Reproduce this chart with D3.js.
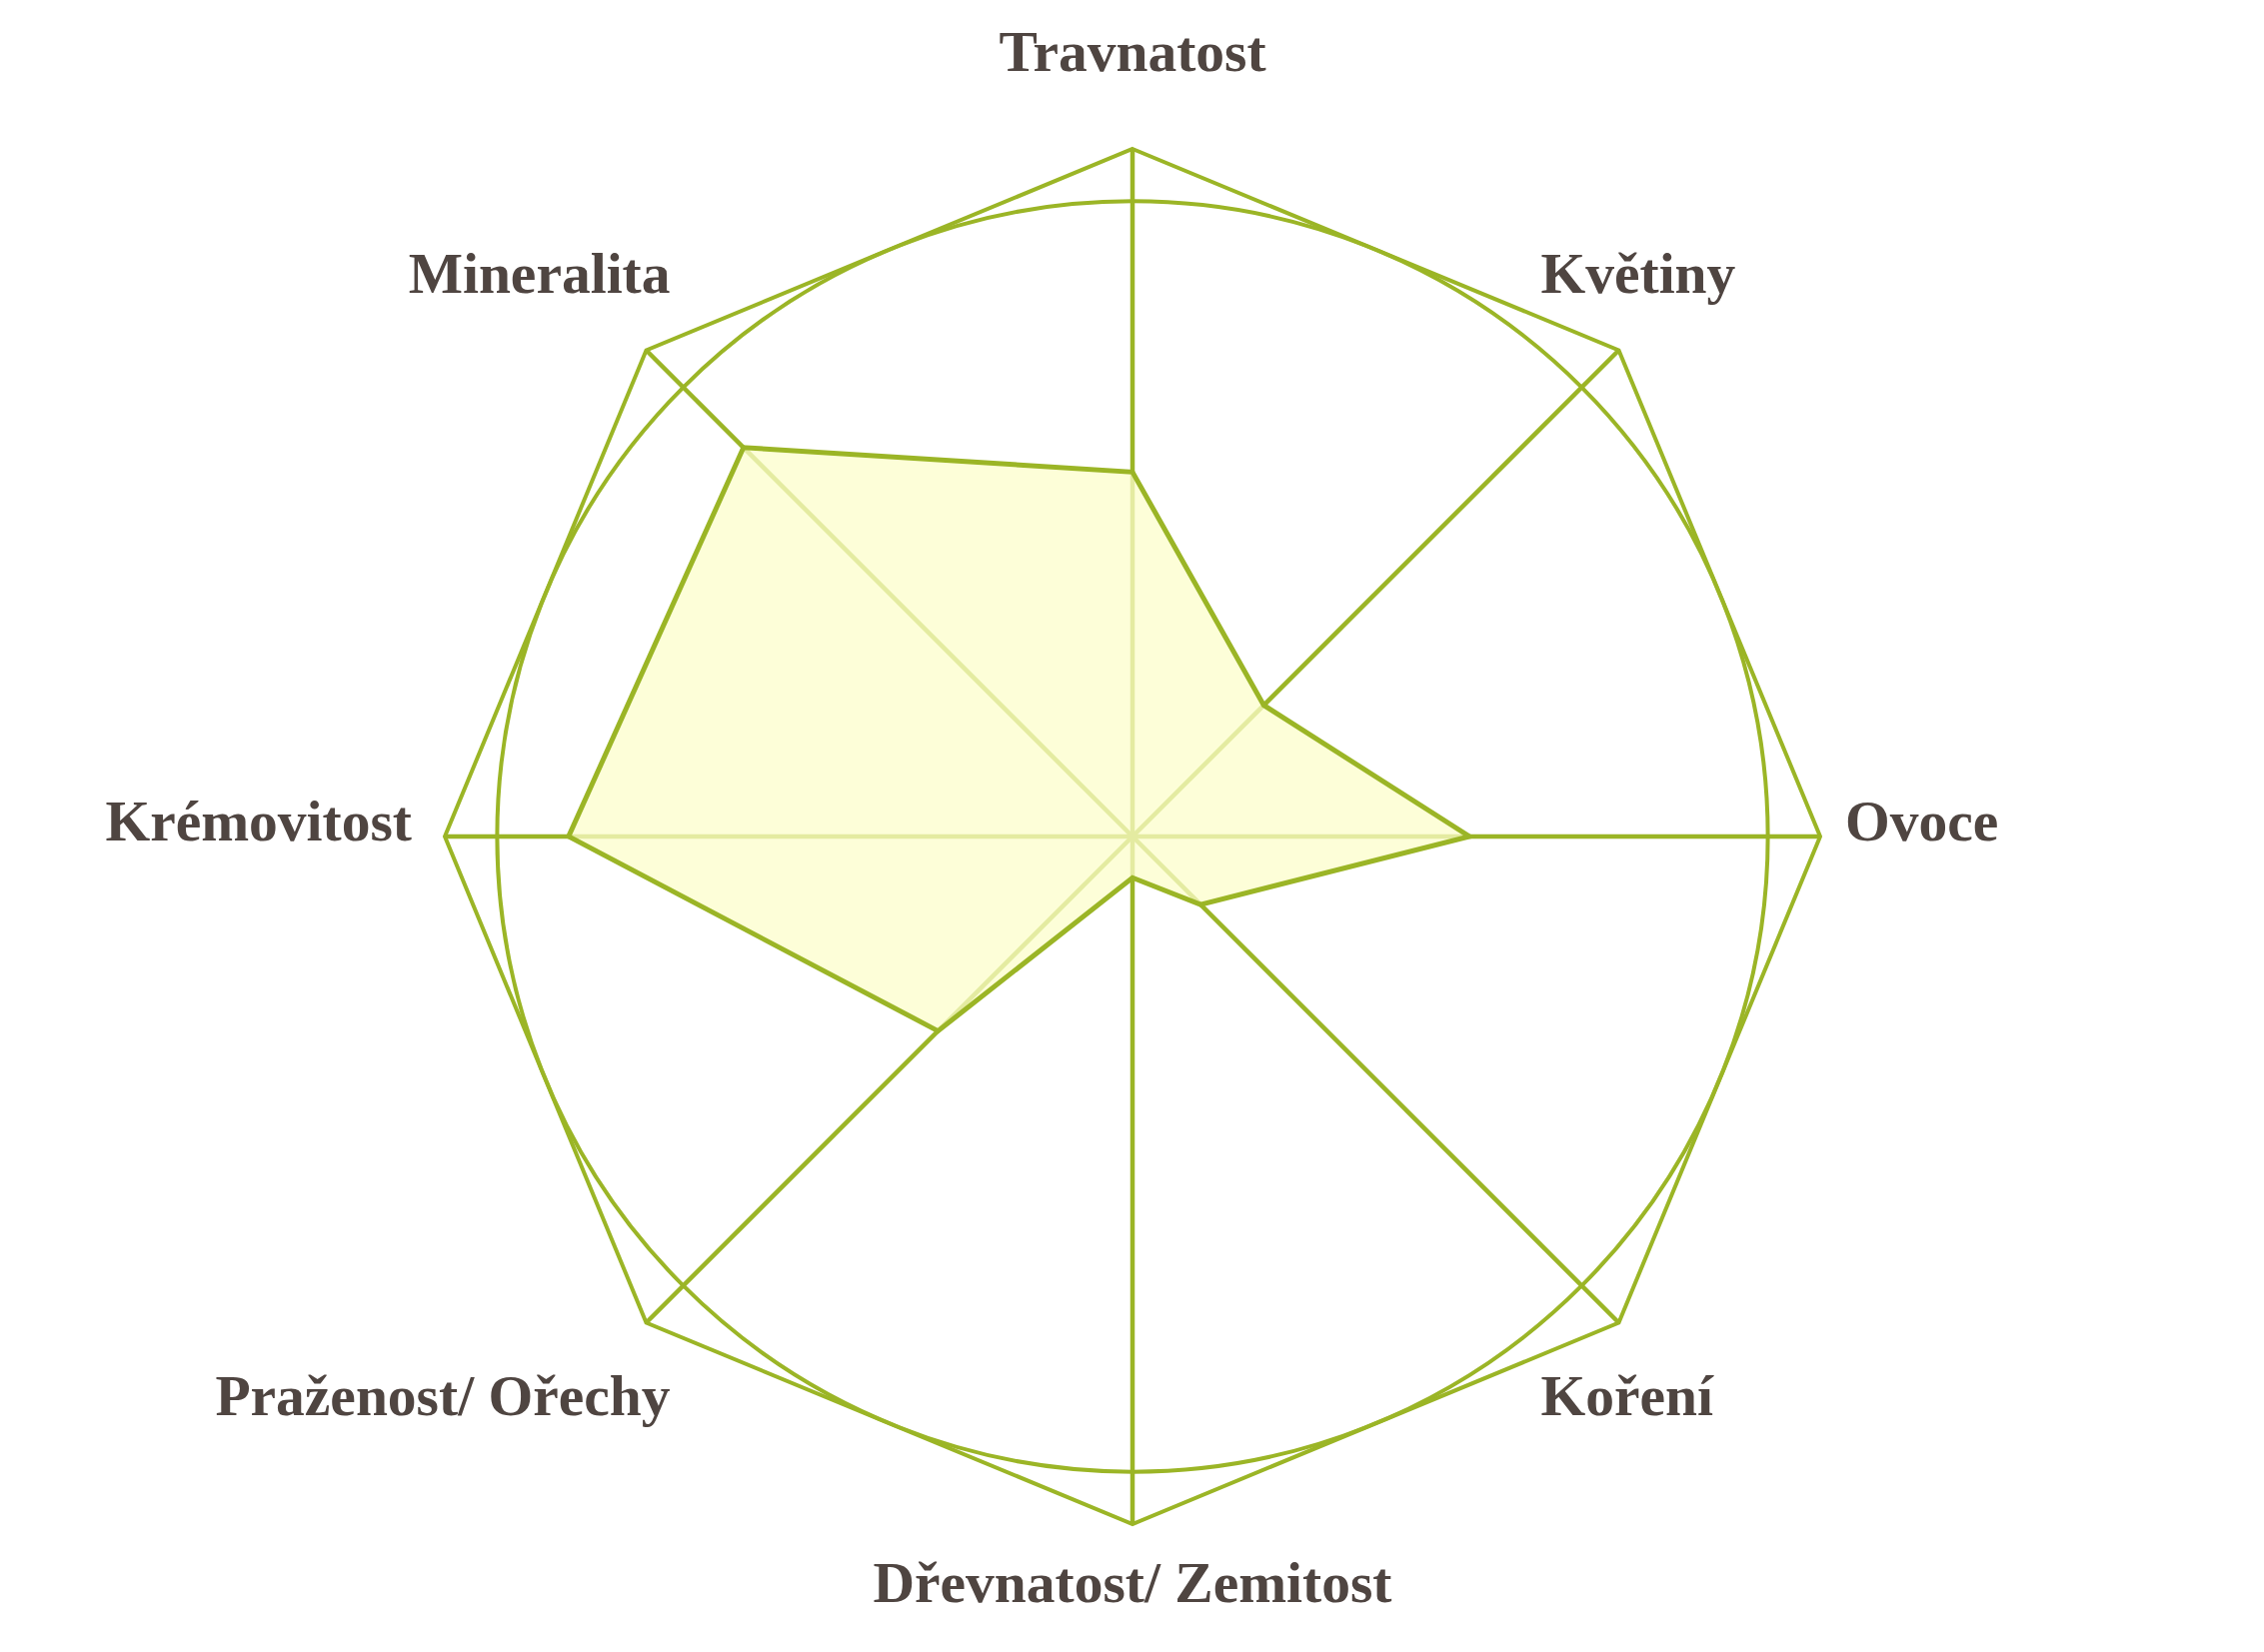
<!DOCTYPE html>
<html>
<head>
<meta charset="utf-8">
<script src="https://cdn.jsdelivr.net/npm/d3@7"></script>
<style>
  html, body { margin: 0; padding: 0; background: #ffffff; }
  svg { display: block; }
</style>
</head>
<body>
<script>
// ---- data ----
const categories = ["Travnatost", "Květiny", "Ovoce", "Koření", "Dřevnatost/ Zemitost", "Praženost/ Ořechy", "Krémovitost", "Mineralita"];
const values = [53, 27, 49, 14, 6, 40, 82, 80];
const maxValue = 100;

// ---- layout ----
const W = 2265, H = 1653;
const cx = 1133, cy = 837, R = 688;
const green = "#9bb526";
const textColor = "#4f4541";

const svg = d3.select("body").append("svg").attr("width", W).attr("height", H);
const g = svg.append("g").attr("transform", `translate(${cx},${cy})`);

const rScale = d3.scaleLinear().domain([0, maxValue]).range([0, R]);
const angle = d3.scaleLinear().domain([0, categories.length]).range([0, 2 * Math.PI]);

const pt = (i, v) => {
  const a = angle(i);
  return [Math.sin(a) * rScale(v), -Math.cos(a) * rScale(v)];
};

// outer octagon
const oct = categories.map((c, i) => pt(i, maxValue));
g.append("path")
  .attr("d", d3.line()(oct) + "Z")
  .attr("fill", "none").attr("stroke", green).attr("stroke-width", 4);

// inscribed circle
g.append("circle")
  .attr("r", rScale(maxValue) * Math.cos(Math.PI / categories.length))
  .attr("fill", "none").attr("stroke", green).attr("stroke-width", 4);

// spokes
g.selectAll("line.spoke").data(categories).join("line")
  .attr("class", "spoke")
  .attr("x1", 0).attr("y1", 0)
  .attr("x2", (d, i) => pt(i, maxValue)[0])
  .attr("y2", (d, i) => pt(i, maxValue)[1])
  .attr("stroke", green).attr("stroke-width", 4.5);

// data polygon
const radial = d3.lineRadial()
  .angle((d, i) => angle(i))
  .radius(d => rScale(d))
  .curve(d3.curveLinearClosed);
g.append("path")
  .attr("d", radial(values))
  .attr("fill", "rgb(252,254,203)").attr("fill-opacity", 0.75)
  .attr("stroke", green).attr("stroke-width", 5)
  .attr("stroke-linejoin", "miter");

// labels
g.selectAll("text.lbl").data(categories).join("text")
  .attr("class", "lbl")
  .each(function (d, i) {
    const [vx, vy] = pt(i, maxValue);
    const s = Math.sin(angle(i)), c = Math.cos(angle(i));
    let x = vx, y = vy, anchor = "middle";
    if (Math.abs(s) < 0.01) {            // top / bottom
      y = c > 0 ? vy - 78 : vy + 78;
    } else if (Math.abs(c) < 0.01) {     // left / right
      y = vy + 4;
      if (s > 0) { anchor = "start"; x = vx + 25; }
      else { anchor = "end"; x = vx - 33; }
    } else {                             // diagonals
      y = c > 0 ? vy - 58 : vy + 93;
      if (s > 0) { anchor = "start"; x = vx - 78; }
      else { anchor = "end"; x = vx + 24; }
    }
    d3.select(this)
      .attr("x", x).attr("y", y)
      .attr("text-anchor", anchor)
      .text(d);
  })
  .attr("font-family", "'Liberation Serif', 'DejaVu Serif', serif")
  .attr("font-weight", "bold")
  .attr("font-size", 57.5)
  .attr("fill", textColor);
</script>
</body>
</html>
